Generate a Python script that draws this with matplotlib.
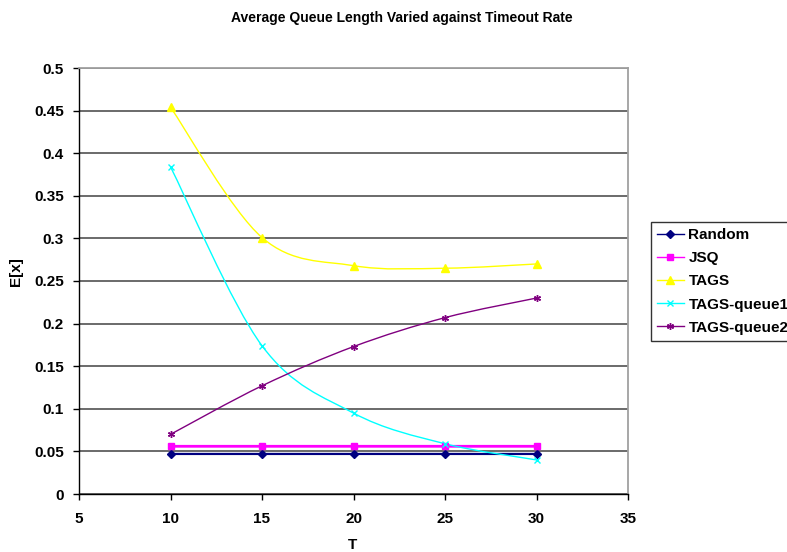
import numpy as np
import matplotlib
matplotlib.use('Agg')
import matplotlib.pyplot as plt
from matplotlib.path import Path
from matplotlib.patches import PathPatch

plt.rcParams['font.family'] = ['Liberation Sans', 'DejaVu Sans']
plt.rcParams['font.weight'] = 'bold'

T = [10, 15, 20, 25, 30]
random_q = [0.047, 0.047, 0.047, 0.047, 0.047]
jsq = [0.056, 0.056, 0.056, 0.056, 0.056]
tags = [0.454, 0.301, 0.268, 0.265, 0.270]
tags_q1 = [0.384, 0.174, 0.095, 0.059, 0.040]
tags_q2 = [0.070, 0.127, 0.173, 0.207, 0.230]

x_ticks = [5, 10, 15, 20, 25, 30, 35]
y_ticks = [0, 0.05, 0.1, 0.15, 0.2, 0.25, 0.3, 0.35, 0.4, 0.45, 0.5]
y_labels = ['0', '0.05', '0.1', '0.15', '0.2', '0.25', '0.3', '0.35', '0.4', '0.45', '0.5']


def smooth_path(x, y):
    # excel style smoothed line: cubic bezier through the points
    pts = np.column_stack([x, y]).astype(float)
    n = len(pts)
    verts = [tuple(pts[0])]
    codes = [Path.MOVETO]
    for i in range(n - 1):
        p0 = pts[i - 1] if i > 0 else pts[i]
        p3 = pts[i + 2] if i + 2 < n else pts[i + 1]
        c1 = pts[i] + (pts[i + 1] - p0) / 6
        c2 = pts[i + 1] - (p3 - pts[i]) / 6
        verts += [tuple(c1), tuple(c2), tuple(pts[i + 1])]
        codes += [Path.CURVE4] * 3
    return Path(verts, codes)


fig = plt.figure(figsize=(7.87, 5.52), dpi=100)
ax = fig.add_axes([79 / 787, 1 - 494 / 552, 549 / 787, 426 / 552])

# name, values, colour, marker, marker size, line width
series = [
    ('Random', random_q, '#000080', 'D', 4, 1.6),
    ('JSQ', jsq, '#FF00FF', 's', 5, 2.0),
    ('TAGS', tags, '#FFFF00', '^', 6, 1.0),
    ('TAGS-queue1', tags_q1, '#00FFFF', 'x', 5, 1.0),
    ('TAGS-queue2', tags_q2, '#800080', (6, 2, 0), 5, 1.0),
]

for name, vals, col, mk, ms, lw in series:
    ax.add_patch(PathPatch(smooth_path(T, vals), facecolor='none', edgecolor=col,
                           lw=lw, zorder=3))
    ax.plot(T, vals, linestyle='none', marker=mk, color=col, markersize=ms,
            markeredgewidth=1, zorder=4)
    ax.plot([], [], color=col, marker=mk, markersize=ms, lw=1.0, label=name)

ax.set_xlim(5, 35)
ax.set_ylim(0, 0.5)
ax.set_xticks(x_ticks)
ax.set_yticks(y_ticks)
ax.set_yticklabels(y_labels)
ax.tick_params(axis='both', direction='out', length=4, width=1, labelsize=11)
ax.tick_params(axis='x', pad=9)
ax.tick_params(axis='y', pad=7)
ax.yaxis.grid(True, color='#5f5f5f', lw=1.3)
ax.set_axisbelow(True)
for s in ['top', 'right']:
    ax.spines[s].set_color('#a0a0a0')
    ax.spines[s].set_linewidth(1.3)
for s in ['left', 'bottom']:
    ax.spines[s].set_color('black')
    ax.spines[s].set_linewidth(1)

fig.text(402 / 787, 1 - 18 / 552, 'Average Queue Length Varied against Timeout Rate',
         ha='center', va='center', fontsize=10, fontweight='bold')
fig.text(353 / 787, 1 - 545 / 552, 'T', ha='center', va='center', fontsize=11,
         fontweight='bold')
fig.text(16 / 787, 1 - 272 / 552, 'E[x]', ha='center', va='center', fontsize=11,
         fontweight='bold', rotation=90)

leg = fig.legend(loc='upper left', bbox_to_anchor=(651 / 787, 1 - 222 / 552),
                 fontsize=11, frameon=True, fancybox=False, handlelength=1.75,
                 handletextpad=0.3, labelspacing=0.6, borderpad=0.4,
                 borderaxespad=0)
leg.get_frame().set_edgecolor('black')
leg.get_frame().set_linewidth(1)
for t in leg.get_texts():
    t.set_fontweight('bold')

fig.savefig('out.png', dpi=100)
